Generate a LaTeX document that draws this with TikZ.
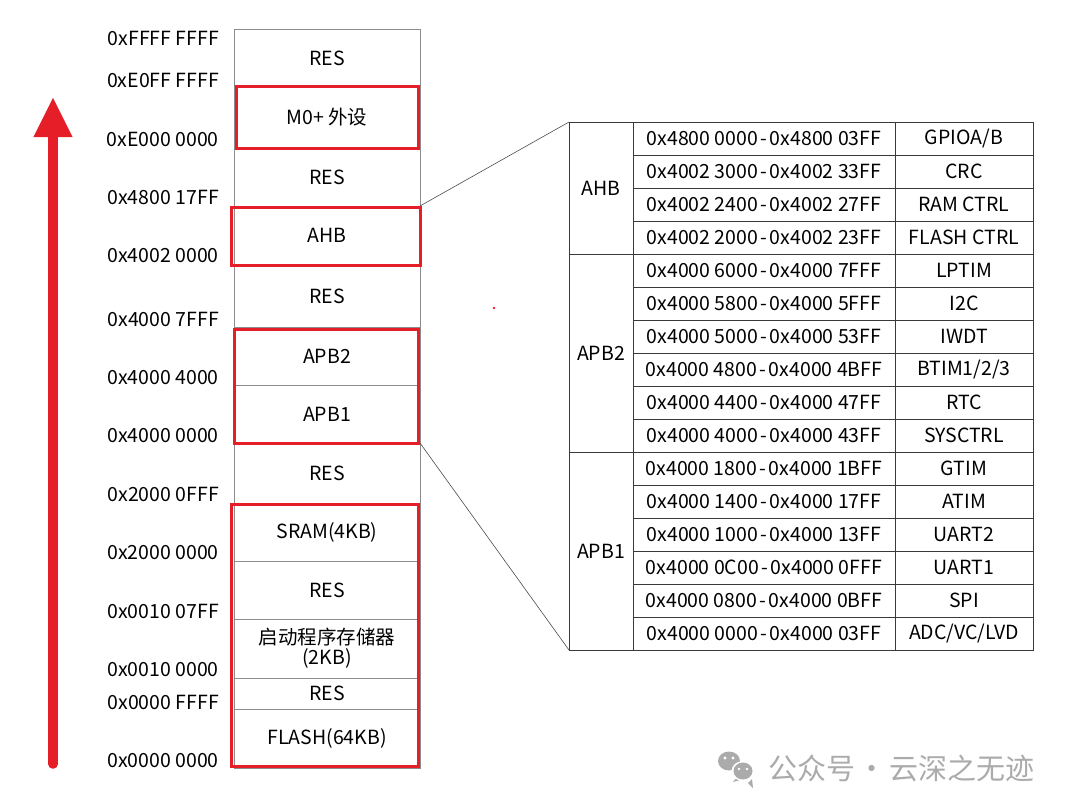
\documentclass[tikz,border=0pt]{standalone}
\usepackage{fontspec}
\setmainfont{Noto Sans CJK SC}
\usetikzlibrary{arrows.meta}
\definecolor{memred}{HTML}{E61E28}
\definecolor{memline}{HTML}{8C8C8C}
\definecolor{tabline}{HTML}{3A3A3A}
\definecolor{wmgray}{HTML}{ABABAB}
\begin{document}
\begin{tikzpicture}[x=1pt,y=-1pt,
  every node/.style={font=\fontsize{19.5}{23}\selectfont, text=black},
  region/.style={draw=memline, line width=0.8pt, minimum width=186pt, inner sep=0pt, outer sep=0pt, align=center},
  addrlabel/.style={anchor=east, inner sep=0pt},
  redbox/.style={draw=memred, line width=3pt},
  leader/.style={draw=black!70, line width=0.6pt},
  cell/.style={draw=tabline, line width=0.8pt, inner sep=0pt, outer sep=0pt, minimum height=33pt},
  grpcell/.style={cell, minimum width=64pt},
  addrcell/.style={cell, minimum width=262pt},
  namecell/.style={cell, minimum width=138pt},
  bigarrow/.style={draw=memred, line width=9.5pt, line cap=round, -{Triangle[length=40pt, width=36pt]}},
  wm/.style={text=wmgray, font=\fontsize{29}{33}\selectfont, anchor=west, inner sep=0pt}
]
\useasboundingbox (0,0) rectangle (1080,812);
\fill[white] (0,0) rectangle (1080,812);

% ---------------- memory column ----------------
\newcommand{\memregion}[4]{%
  \node[region, minimum height={#3-#2}] (#1) at (327,{(#2+#3)/2}) {#4};}
\memregion{r1}{29}{87}{RES}
\memregion{r2}{87}{148}{M0+ 外设}
\memregion{r3}{148}{206}{RES}
\memregion{r4}{206}{265}{AHB}
\memregion{r5}{265}{327}{RES}
\memregion{r6}{327}{385}{APB2}
\memregion{r7}{385}{443}{APB1}
\memregion{r8}{443}{503}{RES}
\memregion{r9}{503}{561}{SRAM(4KB)}
\memregion{r10}{561}{619}{RES}
\memregion{r11}{619}{678}{启动程序存储器\\[-3pt](2KB)}
\memregion{r12}{678}{709}{RES}
\memregion{r13}{709}{768}{FLASH(64KB)}

% red highlight boxes
\draw[redbox] (236,86) rectangle (418,148);
\draw[redbox] (231,207) rectangle (420,265);
\draw[redbox] (234,329) rectangle (418,443);
\draw[redbox] (231,504) rectangle (418,766);

% address labels
\node[addrlabel] (a1)  at (219,38)  {0xFFFF FFFF};
\node[addrlabel] (a2)  at (219,80)  {0xE0FF FFFF};
\node[addrlabel] (a3)  at (219,139) {0xE000 0000};
\node[addrlabel] (a4)  at (219,197) {0x4800 17FF};
\node[addrlabel] (a5)  at (219,256) {0x4002 0000};
\node[addrlabel] (a6)  at (219,319) {0x4000 7FFF};
\node[addrlabel] (a7)  at (219,378) {0x4000 4000};
\node[addrlabel] (a8)  at (219,436) {0x4000 0000};
\node[addrlabel] (a9)  at (219,494) {0x2000 0FFF};
\node[addrlabel] (a10) at (219,553) {0x2000 0000};
\node[addrlabel] (a11) at (219,611) {0x0010 07FF};
\node[addrlabel] (a12) at (219,670) {0x0010 0000};
\node[addrlabel] (a13) at (219,702) {0x0000 FFFF};
\node[addrlabel] (a14) at (219,761) {0x0000 0000};

% big arrow
\coordinate (abot) at (53,764);
\coordinate (atop) at (53,97);
\draw[bigarrow] (abot) -- (atop);

% ---------------- table ----------------
\node[grpcell, minimum height=132pt] (gAHB)  at (601,188) {AHB};
\node[grpcell, minimum height=198pt] (gAPB2) at (601,353) {APB2};
\node[grpcell, minimum height=198pt] (gAPB1) at (601,551) {APB1};

\newcommand{\dash}{\kern2.5pt-\kern2.5pt}
\foreach \i/\ad/\nm in {
  1/0x4800 0000\dash0x4800 03FF/GPIOA\slash B,
  2/0x4002 3000\dash0x4002 33FF/CRC,
  3/0x4002 2400\dash0x4002 27FF/RAM CTRL,
  4/0x4002 2000\dash0x4002 23FF/FLASH CTRL,
  5/0x4000 6000\dash0x4000 7FFF/LPTIM,
  6/0x4000 5800\dash0x4000 5FFF/I2C,
  7/0x4000 5000\dash0x4000 53FF/IWDT,
  8/0x4000 4800\dash0x4000 4BFF/BTIM1\slash 2\slash 3,
  9/0x4000 4400\dash0x4000 47FF/RTC,
  10/0x4000 4000\dash0x4000 43FF/SYSCTRL,
  11/0x4000 1800\dash0x4000 1BFF/GTIM,
  12/0x4000 1400\dash0x4000 17FF/ATIM,
  13/0x4000 1000\dash0x4000 13FF/UART2,
  14/0x4000 0C00\dash0x4000 0FFF/UART1,
  15/0x4000 0800\dash0x4000 0BFF/SPI,
  16/0x4000 0000\dash0x4000 03FF/ADC\slash VC\slash LVD}{
  \node[addrcell] (ad\i) at (764,{122+33*(\i-0.5)}) {\ad};
  \node[namecell] (nm\i) at (964,{122+33*(\i-0.5)}) {\nm};
}

% leader lines
\draw[leader] (r3.south east) -- (gAHB.north west);
\draw[leader] (r7.south east) -- (gAPB1.south west);

% stray dot
\fill[memred] (494,308) circle (1.4);

% ---------------- watermark ----------------
\begin{scope}[fill=wmgray]
  \fill (729,761) ellipse (11 and 9.5);
  \fill (738,776) -- (733,782) -- (744,779) -- cycle;
  \fill[white] (743,771) ellipse (11.5 and 10);
  \fill (743,771) ellipse (9.5 and 8.5);
  \fill (748,783) -- (753,788) -- (752,779) -- cycle;
  \fill[white] (725,758) circle (1.6);
  \fill[white] (733,758) circle (1.6);
  \fill[white] (739,769) circle (1.4);
  \fill[white] (747,769) circle (1.4);
\end{scope}
\node[wm] (wmtext) at (768,768) {公众号\kern-4pt{} · \kern-4pt{}云深之无迹};
\end{tikzpicture}
\end{document}
